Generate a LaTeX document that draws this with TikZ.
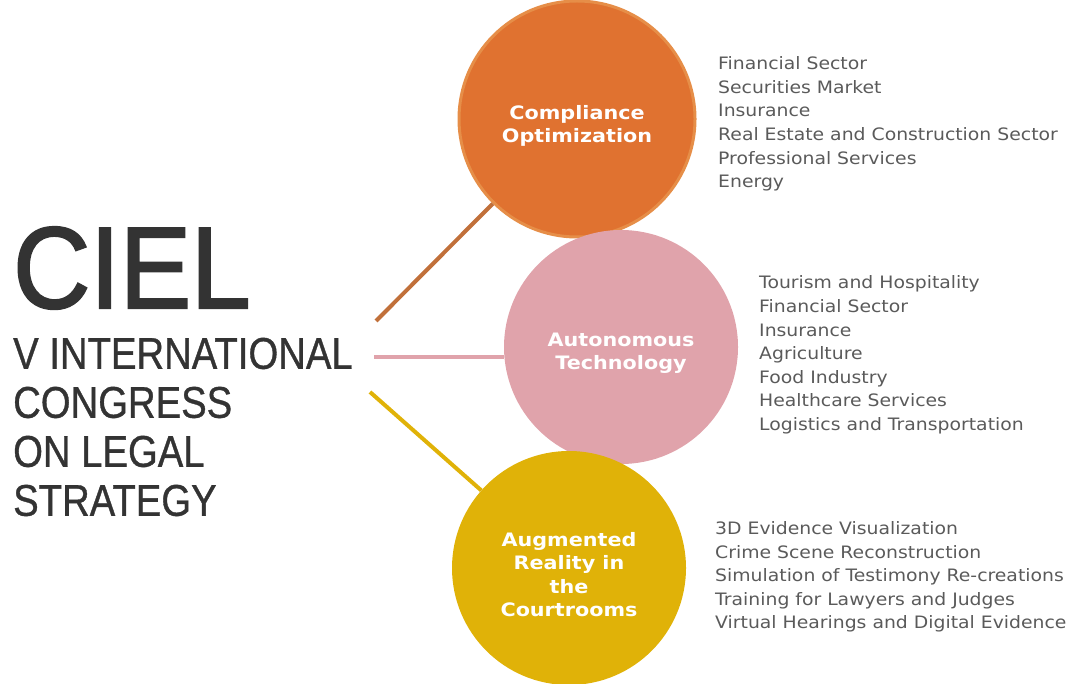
\documentclass[tikz,border=0pt]{standalone}
\usepackage{fontspec}
\setmainfont{DejaVu Sans}
\newfontfamily\listfont[FakeStretch=1.1]{DejaVu Sans}
\newfontfamily\topicfont[FakeStretch=1.12]{DejaVu Sans}
\newfontfamily\cielfont[FakeStretch=0.92]{Liberation Sans}
\newfontfamily\congressfont[FakeStretch=0.86]{Liberation Sans}
\newcommand{\heavytext}[2]{\special{pdf:literal 2 Tr #1 w}#2\special{pdf:literal 0 Tr 1 w}}
\usetikzlibrary{positioning}

\definecolor{cielgray}{HTML}{333333}
\definecolor{listgray}{HTML}{5A5A5A}
\definecolor{complorange}{HTML}{E07230}
\definecolor{complrim}{HTML}{E68E48}
\definecolor{complline}{HTML}{C1703A}
\definecolor{autopink}{HTML}{E0A3AB}
\definecolor{augyellow}{HTML}{E0B208}

\begin{document}
\begin{tikzpicture}[x=1pt, y=-1pt]
    \tikzstyle{topic} = [circle, inner sep=0pt]
    \tikzstyle{topiclabel} = [inner sep=0pt, text=white, align=center,
        font=\fontsize{18.5}{23.2}\topicfont\bfseries, yshift=-6.5pt]
    \tikzstyle{sectors} = [anchor=west, inner sep=0pt, text=listgray, align=left,
        font=\fontsize{17.1}{23.6}\listfont]
    \tikzstyle{branch} = [line width=4pt]

    \useasboundingbox (0,0) rectangle (1067,684);

    % title block
    \node [anchor=base west, inner sep=0pt, text=cielgray, font=\fontsize{116}{116}\cielfont] (ciel) at (13,308) {\heavytext{2.2}{CIEL}};
    \node [anchor=west, inner sep=0pt, text=cielgray, align=left, font=\fontsize{44.5}{49}\congressfont] (congress) at (13,427)
        {\heavytext{0.35}{V INTERNATIONAL}\\\heavytext{0.35}{CONGRESS}\\\heavytext{0.35}{ON LEGAL}\\\heavytext{0.35}{STRATEGY}};

    % topics
    \node [topic, minimum size=236pt, fill=complorange, draw=complrim, line width=3pt] (compliance) at (577,119) {};
    \node [topic, minimum size=234pt, fill=autopink] (autonomous) at (621,347) {};
    \node [topic, minimum size=234pt, fill=augyellow] (augmented) at (569,568) {};
    \node [topiclabel] (compliancetext) at (compliance) {Compliance\\Optimization};
    \node [topiclabel] (autonomoustext) at (autonomous) {Autonomous\\Technology};
    \node [topiclabel] (augmentedtext) at (augmented) {Augmented\\Reality in\\the\\Courtrooms};

    % sector lists
    \node [sectors] (complist) at (718,124) {Financial Sector\\Securities Market\\Insurance\\Real Estate and Construction Sector\\Professional Services\\Energy};
    \node [sectors] (autolist) at (759,355) {Tourism and Hospitality\\Financial Sector\\Insurance\\Agriculture\\Food Industry\\Healthcare Services\\Logistics and Transportation};
    \node [sectors] (auglist) at (715,577) {3D Evidence Visualization\\Crime Scene Reconstruction\\Simulation of Testimony Re-creations\\Training for Lawyers and Judges\\Virtual Hearings and Digital Evidence};

    % branches
    \coordinate (root1) at (376,321);
    \coordinate (root2) at (374,357);
    \coordinate (root3) at (370,392);
    \draw [branch, complline] (root1) -- (compliance);
    \draw [branch, autopink] (root2) -- (root2 -| autonomous.west);
    \draw [branch, augyellow] (root3) -- (augmented);
\end{tikzpicture}
\end{document}
